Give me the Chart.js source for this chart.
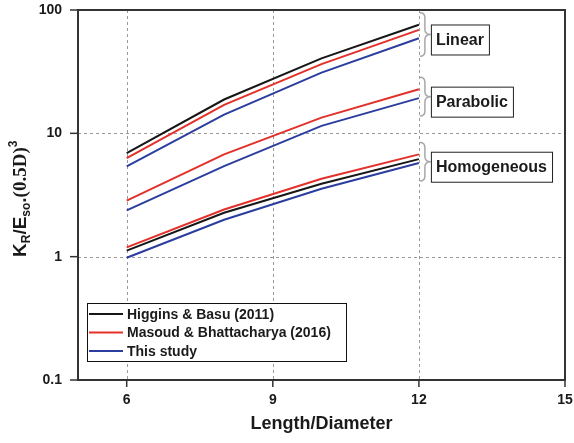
<!DOCTYPE html>
<html>
<head>
<meta charset="utf-8">
<script src="https://cdn.jsdelivr.net/npm/chart.js@4/dist/chart.umd.min.js"></script>
<style>
  html, body { margin: 0; padding: 0; background: #fff; }
  canvas { display: block; }
</style>
</head>
<body>
<canvas id="stiffChart" width="574" height="443"></canvas>
<script>
// --- data ---
const lengthDiameter = [6, 8, 10, 12];

const higginsLinear = [6.9, 18.8, 40.5, 76];
const masoudLinear = [6.3, 17.0, 36.4, 69];
const studyLinear = [5.4, 14.2, 31.1, 59];

const masoudParabolic = [2.85, 6.75, 13.4, 22.8];
const studyParabolic = [2.37, 5.42, 11.5, 19.3];

const masoudHomog = [1.19, 2.41, 4.28, 6.75];
const higginsHomog = [1.12, 2.27, 3.9, 6.18];
const studyHomog = [0.98, 1.99, 3.55, 5.74];

const xTicks = [6, 9, 12, 15];
const yTicks = [0.1, 1, 10, 100];
const yTickLabels = ["0.1", "1", "10", "100"];

const legendNames = ["Higgins & Basu (2011)", "Masoud & Bhattacharya (2016)", "This study"];
const groupNames = ["Linear", "Parabolic", "Homogeneous"];

const BLACK = "#161616";
const RED = "#e3302a";
const BLUE = "#2b3d9e";
const colors = [BLACK, RED, BLUE];

// series: [values, source index, group index]
const series = [
  [higginsLinear, 0, 0], [masoudLinear, 1, 0], [studyLinear, 2, 0],
  [masoudParabolic, 1, 1], [studyParabolic, 2, 1],
  [masoudHomog, 1, 2], [higginsHomog, 0, 2], [studyHomog, 2, 2],
];

const datasets = series.map(([vals, src, grp]) => ({
  label: legendNames[src] + " - " + groupNames[grp],
  data: lengthDiameter.map((x, i) => ({ x: x, y: vals[i] })),
  borderColor: colors[src],
  backgroundColor: colors[src],
  borderWidth: 2,
  pointRadius: 0,
  tension: 0,
  fill: false,
}));

const SANS = "'Liberation Sans', Arial, sans-serif";

// frame, dashed grid and tick marks
const framePlugin = {
  id: "frame",
  beforeDatasetsDraw(chart) {
    const { ctx, chartArea: a, scales: { x, y } } = chart;
    ctx.save();
    ctx.strokeStyle = "#9a9a9a";
    ctx.lineWidth = 1;
    ctx.setLineDash([3, 3]);
    xTicks.forEach(v => {
      if (v >= 15) return;
      const px = Math.round(x.getPixelForValue(v)) + 0.5;
      ctx.beginPath(); ctx.moveTo(px, a.top); ctx.lineTo(px, a.bottom); ctx.stroke();
    });
    [1, 10].forEach(v => {
      const py = Math.round(y.getPixelForValue(v)) + 0.5;
      ctx.beginPath(); ctx.moveTo(a.left, py); ctx.lineTo(a.right, py); ctx.stroke();
    });
    ctx.setLineDash([]);
    ctx.strokeStyle = "#333";
    ctx.lineWidth = 2;
    ctx.strokeRect(a.left, a.top, a.right - a.left, a.bottom - a.top);
    ctx.lineWidth = 1.5;
    yTicks.forEach(v => {
      const py = y.getPixelForValue(v);
      ctx.beginPath(); ctx.moveTo(a.left - 8, py); ctx.lineTo(a.left, py); ctx.stroke();
    });
    xTicks.forEach(v => {
      const px = x.getPixelForValue(v);
      ctx.beginPath(); ctx.moveTo(px, a.bottom); ctx.lineTo(px, a.bottom + 7); ctx.stroke();
    });
    ctx.restore();
  },
  afterDatasetsDraw(chart) {
    const { ctx, scales: { x, y } } = chart;
    ctx.save();

    // braces + boxed group labels at L/D = 12
    const last = lengthDiameter.length - 1;
    const xEnd = x.getPixelForValue(lengthDiameter[last]);
    groupNames.forEach((name, g) => {
      const vals = series.filter(s => s[2] === g).map(s => s[0][last]);
      const top = y.getPixelForValue(Math.max(...vals)) - 12;
      const bot = y.getPixelForValue(Math.min(...vals)) + 18;
      const mid = (top + bot) / 2;
      const xl = xEnd + 1, xm = xEnd + 6, xr = xEnd + 12;
      ctx.strokeStyle = "#a8a8a8";
      ctx.lineWidth = 1.5;
      ctx.beginPath();
      ctx.moveTo(xl, top);
      ctx.quadraticCurveTo(xm, top, xm, top + 5);
      ctx.lineTo(xm, mid - 5);
      ctx.quadraticCurveTo(xm, mid, xr, mid);
      ctx.quadraticCurveTo(xm, mid, xm, mid + 5);
      ctx.lineTo(xm, bot - 5);
      ctx.quadraticCurveTo(xm, bot, xl, bot);
      ctx.stroke();

      ctx.font = "bold 16px " + SANS;
      const w = ctx.measureText(name).width;
      const bx = xEnd + 12, bh = 30, by = mid + 5 - bh / 2;
      ctx.fillStyle = "#fff";
      ctx.fillRect(bx, by, w + 10, bh);
      ctx.strokeStyle = "#222";
      ctx.lineWidth = 1;
      ctx.strokeRect(bx + 0.5, by + 0.5, w + 10, bh);
      ctx.fillStyle = "#1a1a1a";
      ctx.textBaseline = "middle";
      ctx.textAlign = "left";
      ctx.fillText(name, bx + 5, by + bh / 2 + 1);
    });

    // legend box
    ctx.fillStyle = "#fff";
    ctx.fillRect(87, 303, 259, 58);
    ctx.strokeStyle = "#111";
    ctx.lineWidth = 1;
    ctx.strokeRect(87.5, 303.5, 259, 58);
    ctx.font = "bold 14px " + SANS;
    ctx.textBaseline = "middle";
    legendNames.forEach((n, i) => {
      const ly = 314 + i * 18.5;
      ctx.strokeStyle = colors[i];
      ctx.lineWidth = 2;
      ctx.beginPath(); ctx.moveTo(89, ly); ctx.lineTo(123, ly); ctx.stroke();
      ctx.fillStyle = "#1a1a1a";
      ctx.fillText(n, 127, ly + 1);
    });

    // y axis title with sub/superscripts
    ctx.translate(26, 257);
    ctx.rotate(-Math.PI / 2);
    ctx.textBaseline = "alphabetic";
    ctx.fillStyle = "#1a1a1a";
    const parts = [
      ["K", "bold 19px " + SANS, 0],
      ["R", "bold 12px " + SANS, 4],
      ["/E", "bold 19px " + SANS, 0],
      ["so", "bold 12px " + SANS, 4],
      [".", "bold 19px " + SANS, 0],
      ["(0.5D)", "bold 19px 'Liberation Serif', serif", 0],
      ["3", "bold 12px " + SANS, -9],
    ];
    let cx = 0;
    parts.forEach(([t, f, dy]) => {
      ctx.font = f;
      ctx.fillText(t, cx, dy);
      cx += ctx.measureText(t).width;
    });
    ctx.restore();
  }
};

new Chart(document.getElementById("stiffChart"), {
  type: "line",
  data: { datasets: datasets },
  options: {
    responsive: false,
    devicePixelRatio: 1,
    animation: false,
    layout: { padding: { top: 10, right: 9, left: 0, bottom: 4 } },
    plugins: {
      legend: { display: false },
      tooltip: { enabled: false },
    },
    scales: {
      x: {
        type: "linear",
        min: 5,
        max: 15,
        afterBuildTicks: s => { s.ticks = xTicks.map(v => ({ value: v })); },
        afterFit: s => { s.height = 59; s.paddingLeft = 0; s.paddingRight = 0; },
        grid: { display: false, drawTicks: false },
        border: { display: false },
        ticks: {
          color: "#1a1a1a",
          font: { family: SANS, size: 14, weight: "bold" },
          padding: 12,
          maxRotation: 0,
          autoSkip: false,
        },
        title: {
          display: true,
          text: "Length/Diameter",
          color: "#1a1a1a",
          font: { family: SANS, size: 18, weight: "bold" },
        },
      },
      y: {
        type: "logarithmic",
        min: 0.1,
        max: 100,
        afterBuildTicks: s => { s.ticks = yTicks.map(v => ({ value: v })); },
        afterFit: s => { s.width = 78; s.paddingTop = 0; s.paddingBottom = 0; },
        grid: { display: false, drawTicks: false },
        border: { display: false },
        ticks: {
          color: "#1a1a1a",
          font: { family: SANS, size: 14, weight: "bold" },
          padding: 16,
          autoSkip: false,
          callback: v => yTickLabels[yTicks.indexOf(v)] ?? "",
        },
      },
    },
  },
  plugins: [framePlugin],
});
</script>
</body>
</html>
